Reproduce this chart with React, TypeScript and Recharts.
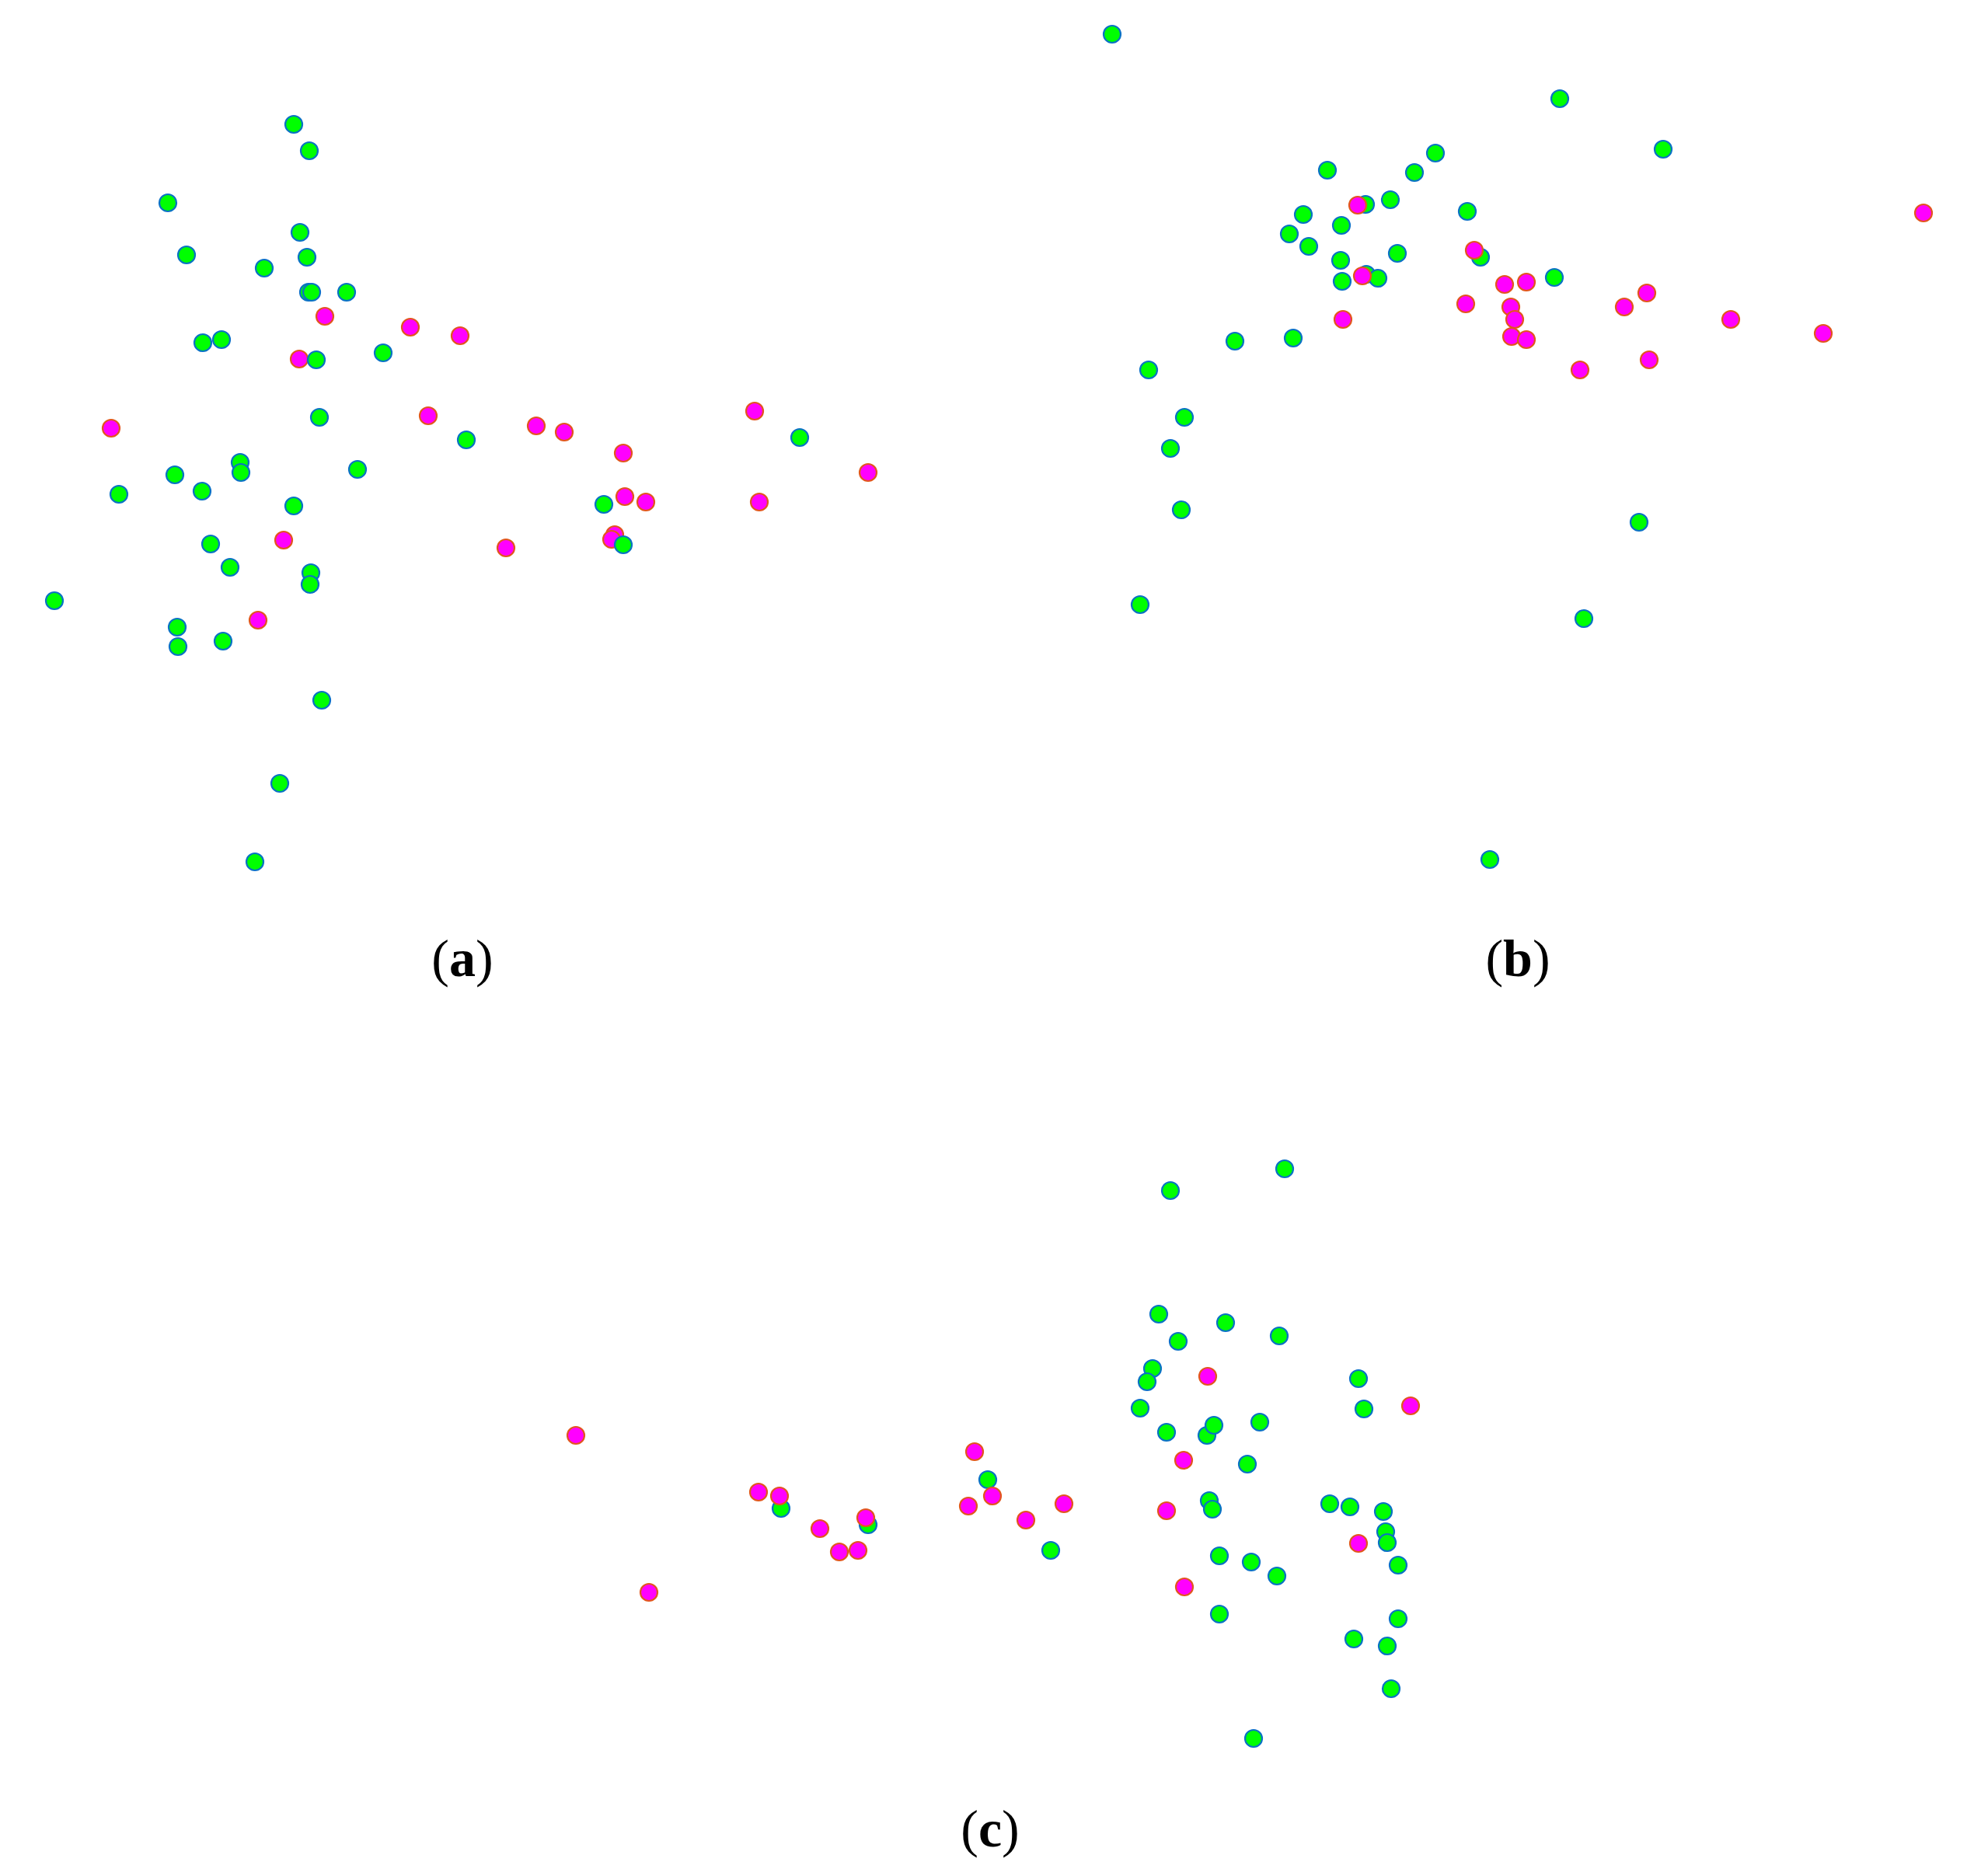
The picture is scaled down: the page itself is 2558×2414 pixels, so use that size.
import React from "react";
import { ScatterChart, Scatter, XAxis, YAxis } from "recharts";

// positions are in the figure's own pixel units (no axes in the original)
const panelAGreen = [
  { x: 378, y: 160 }, { x: 398, y: 194 }, { x: 216, y: 261 }, { x: 240, y: 328 },
  { x: 386, y: 299 }, { x: 340, y: 345 }, { x: 395, y: 331 }, { x: 397, y: 376 },
  { x: 401, y: 376 }, { x: 446, y: 376 }, { x: 261, y: 441 }, { x: 285, y: 437 },
  { x: 407, y: 463 }, { x: 493, y: 454 }, { x: 411, y: 537 }, { x: 600, y: 566 },
  { x: 225, y: 611 }, { x: 309, y: 595 }, { x: 310, y: 608 }, { x: 260, y: 632 },
  { x: 378, y: 651 }, { x: 271, y: 700 }, { x: 296, y: 730 }, { x: 400, y: 737 },
  { x: 399, y: 752 }, { x: 228, y: 807 }, { x: 229, y: 832 }, { x: 287, y: 825 },
  { x: 460, y: 604 }, { x: 153, y: 636 }, { x: 70, y: 773 }, { x: 414, y: 901 },
  { x: 360, y: 1008 }, { x: 328, y: 1109 }, { x: 777, y: 649 }, { x: 802, y: 701 },
  { x: 1029, y: 563 },
];

const panelAMagenta = [
  { x: 418, y: 407 }, { x: 385, y: 462 }, { x: 528, y: 421 }, { x: 592, y: 432 },
  { x: 143, y: 551 }, { x: 551, y: 535 }, { x: 690, y: 548 }, { x: 726, y: 556 },
  { x: 802, y: 583 }, { x: 804, y: 639 }, { x: 831, y: 646 }, { x: 365, y: 695 },
  { x: 651, y: 705 }, { x: 791, y: 688 }, { x: 787, y: 694 }, { x: 332, y: 798 },
  { x: 971, y: 529 }, { x: 977, y: 646 }, { x: 1117, y: 608 },
];

const panelBGreen = [
  { x: 1431, y: 44 }, { x: 2007, y: 127 }, { x: 2140, y: 192 }, { x: 1847, y: 197 },
  { x: 1708, y: 219 }, { x: 1820, y: 222 }, { x: 1789, y: 257 }, { x: 1757, y: 263 },
  { x: 1888, y: 272 }, { x: 1677, y: 276 }, { x: 1726, y: 290 }, { x: 1659, y: 301 },
  { x: 1684, y: 317 }, { x: 1905, y: 331 }, { x: 1798, y: 326 }, { x: 1725, y: 335 },
  { x: 1727, y: 362 }, { x: 1758, y: 353 }, { x: 1773, y: 358 }, { x: 2000, y: 357 },
  { x: 1664, y: 435 }, { x: 1589, y: 439 }, { x: 1478, y: 476 }, { x: 1524, y: 537 },
  { x: 1506, y: 577 }, { x: 1520, y: 656 }, { x: 1467, y: 778 }, { x: 2109, y: 672 },
  { x: 2038, y: 796 }, { x: 1917, y: 1106 },
];

const panelBMagenta = [
  { x: 1747, y: 264 }, { x: 1897, y: 322 }, { x: 1753, y: 355 }, { x: 1936, y: 366 },
  { x: 1964, y: 363 }, { x: 1886, y: 391 }, { x: 1944, y: 395 }, { x: 1949, y: 411 },
  { x: 1728, y: 411 }, { x: 1945, y: 433 }, { x: 1964, y: 437 }, { x: 2475, y: 274 },
  { x: 2090, y: 395 }, { x: 2119, y: 377 }, { x: 2227, y: 411 }, { x: 2346, y: 429 },
  { x: 2033, y: 476 }, { x: 2122, y: 463 },
];

const panelCGreen = [
  { x: 1653, y: 1504 }, { x: 1506, y: 1532 }, { x: 1491, y: 1691 }, { x: 1577, y: 1702 },
  { x: 1646, y: 1719 }, { x: 1516, y: 1726 }, { x: 1483, y: 1761 }, { x: 1476, y: 1778 },
  { x: 1748, y: 1774 }, { x: 1467, y: 1812 }, { x: 1755, y: 1813 }, { x: 1501, y: 1843 },
  { x: 1553, y: 1847 }, { x: 1562, y: 1834 }, { x: 1621, y: 1830 }, { x: 1605, y: 1884 },
  { x: 1556, y: 1931 }, { x: 1560, y: 1942 }, { x: 1711, y: 1935 }, { x: 1737, y: 1939 },
  { x: 1780, y: 1945 }, { x: 1783, y: 1971 }, { x: 1785, y: 1985 }, { x: 1569, y: 2002 },
  { x: 1610, y: 2010 }, { x: 1643, y: 2028 }, { x: 1799, y: 2014 }, { x: 1569, y: 2077 },
  { x: 1799, y: 2083 }, { x: 1742, y: 2109 }, { x: 1785, y: 2118 }, { x: 1790, y: 2173 },
  { x: 1271, y: 1904 }, { x: 1005, y: 1941 }, { x: 1117, y: 1962 }, { x: 1352, y: 1995 },
  { x: 1613, y: 2237 },
];

const panelCMagenta = [
  { x: 1554, y: 1771 }, { x: 1815, y: 1809 }, { x: 1523, y: 1879 }, { x: 1501, y: 1944 },
  { x: 1748, y: 1986 }, { x: 1524, y: 2042 }, { x: 741, y: 1847 }, { x: 835, y: 2049 },
  { x: 976, y: 1920 }, { x: 1003, y: 1925 }, { x: 1055, y: 1967 }, { x: 1080, y: 1997 },
  { x: 1104, y: 1995 }, { x: 1114, y: 1953 }, { x: 1254, y: 1868 }, { x: 1246, y: 1938 },
  { x: 1277, y: 1925 }, { x: 1320, y: 1956 }, { x: 1369, y: 1935 },
];

const panelLabels = [
  { letter: "a", x: 595, y: 1199 },
  { letter: "b", x: 1953, y: 1199 },
  { letter: "c", x: 1274, y: 2319 },
];

const W = 2558;
const H = 2414;

const dot = (fill: string, stroke: string) => (props: any) =>
  <circle cx={props.cx} cy={props.cy} r={11} fill={fill} stroke={stroke} strokeWidth={2.2} />;

const greenDot = dot("#00ff00", "#0a72c4");
const magentaDot = dot("#ff00ff", "#e2561e");

const App = () => {
  return (
    <div style={{ position: "absolute", left: 0, top: 0, width: W, height: H, background: "#fff" }}>
      <ScatterChart width={W} height={H} margin={{ top: 0, right: 0, bottom: 0, left: 0 }}>
        <XAxis type="number" dataKey="x" domain={[0, W]} hide />
        <YAxis type="number" dataKey="y" domain={[0, H]} reversed hide />
        <Scatter data={panelAMagenta} shape={magentaDot} isAnimationActive={false} />
        <Scatter data={panelAGreen} shape={greenDot} isAnimationActive={false} />
        <Scatter data={panelBGreen} shape={greenDot} isAnimationActive={false} />
        <Scatter data={panelBMagenta} shape={magentaDot} isAnimationActive={false} />
        <Scatter data={panelCGreen} shape={greenDot} isAnimationActive={false} />
        <Scatter data={panelCMagenta} shape={magentaDot} isAnimationActive={false} />
      </ScatterChart>
      {panelLabels.map((l) => (
        <div
          key={l.letter}
          style={{
            position: "absolute",
            left: l.x - 100,
            top: l.y,
            width: 200,
            textAlign: "center",
            fontFamily: "'Liberation Serif', 'Times New Roman', serif",
            fontSize: 68,
            lineHeight: "68px",
            color: "#000",
          }}
        >
          (<b>{l.letter}</b>)
        </div>
      ))}
    </div>
  );
};

export default App;
